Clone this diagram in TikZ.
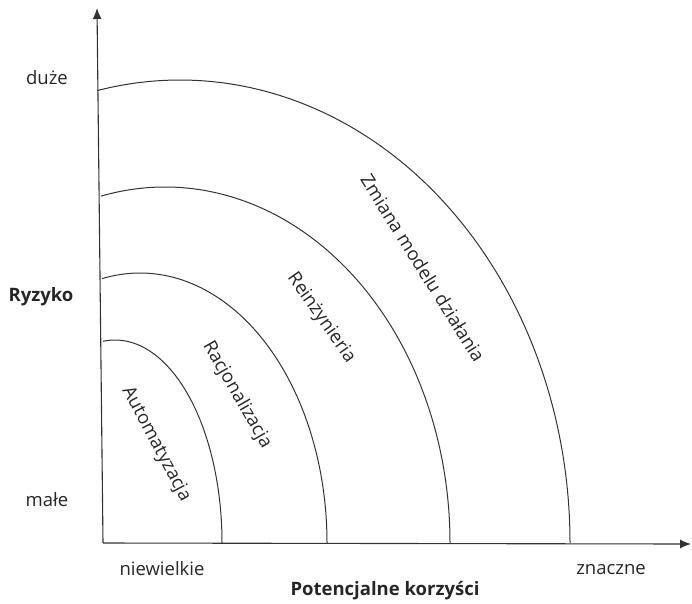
\documentclass[tikz,border=0pt]{standalone}
\usepackage{fontspec}
\setmainfont{Open Sans}
\usetikzlibrary{arrows.meta}

\begin{document}
\begin{tikzpicture}[x=1pt,y=-1pt,line width=1pt,black!80,
  axis/.style={-{Latex[length=11pt,width=9pt]},line width=1.1pt},
  lab/.style={font=\fontsize{18.5}{22}\selectfont,text=black!85},
  bold/.style={lab,font=\fontsize{18.5}{22}\selectfont\bfseries},
  arclab/.style={lab,inner sep=0pt}]
  \useasboundingbox (0,0) rectangle (692,603);
  % axes
  \coordinate (o) at (103,543);
  \coordinate (ytop) at (97,8);
  \coordinate (xend) at (691,544);
  \draw[axis] (o) -- (ytop);
  \draw[axis] (o) -- (xend);
  % risk / benefit labels
  \node[lab] (duze) at (47,78) {duże};
  \node[bold] (ryzyko) at (41,297) {Ryzyko};
  \node[lab] (male) at (47,500) {małe};
  \node[lab] (niew) at (162,569) {niewielkie};
  \node[lab] (znaczne) at (611,570) {znaczne};
  \node[bold] (korzysci) at (385,591) {Potencjalne korzyści};
  % quarter ellipses
  \foreach \cx/\rx/\ry/\a in {115/107/203/96.4, 140/187/270/101.7,
                              165/285/356/103, 180/390/463/102.3}
    \draw (\cx,543) ++(\a:\rx pt and \ry pt)
      arc[start angle=\a, end angle=0, x radius=\rx pt, y radius=\ry pt];
  % texts along the arcs
  \node[arclab, rotate=-62] (auto) at (156,444) {Automatyzacja};
  \node[arclab, rotate=-60] (racj) at (237,395) {Racjonalizacja};
  \node[arclab, rotate=-55] (rein) at (321,318) {Reinżynieria};
  \node[arclab, rotate=-58] (zmiana) at (423,268) {Zmiana modelu działania};
\end{tikzpicture}
\end{document}
